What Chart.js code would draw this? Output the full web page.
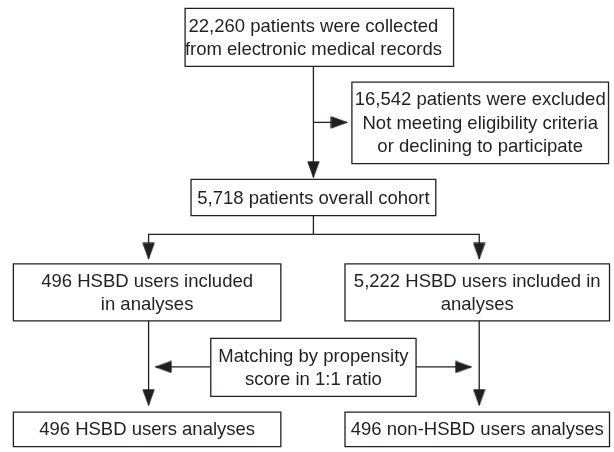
<!DOCTYPE html>
<html>
<head>
<meta charset="utf-8">
<title>Patient flow</title>
<script src="https://cdn.jsdelivr.net/npm/chart.js@4/dist/chart.umd.min.js"></script>
<style>
  html, body { margin: 0; padding: 0; background: #fff; }
  #flow { display: block; }
</style>
</head>
<body>
<canvas id="flow" width="614" height="452"></canvas>
<script>
// text of each step, top to bottom, left to right
const stepText = [
  ['22,260 patients were collected', 'from electronic medical records'],
  ['16,542 patients were excluded', 'Not meeting eligibility criteria', 'or declining to participate'],
  ['5,718 patients overall cohort'],
  ['496 HSBD users included', 'in analyses'],
  ['5,222 HSBD users included in', 'analyses'],
  ['Matching by propensity', 'score in 1:1 ratio'],
  ['496 HSBD users analyses'],
  ['496 non-HSBD users analyses']
];

// layout on a 614 x 452 grid: [left, top, right, bottom, text centre x]
const boxRects = [
  [183.5, 4.5, 455.5, 63.5, 313.5],
  [352.5, 79.5, 612.5, 162.5],
  [189.5, 178.5, 437.5, 215.5],
  [9.5, 264.5, 280.5, 322.5],
  [345.5, 264.5, 613.5, 322.5],
  [209.5, 340.5, 417.5, 399.5],
  [9.5, 415.5, 280.5, 450.5],
  [345.5, 415.5, 613.5, 450.5]
];

// connectors that end in an arrowhead
const arrowPaths = [
  [[313.5, 63.5], [313.5, 176.5]],
  [[313.5, 120.5], [347.5, 120.5]],
  [[313.5, 234.5], [146.5, 234.5], [146.5, 259.5]],
  [[313.5, 234.5], [481.5, 234.5], [481.5, 259.5]],
  [[146.5, 322.5], [146.5, 408.5]],
  [[481.5, 322.5], [481.5, 408.5]],
  [[209.5, 369.5], [153.5, 369.5]],
  [[417.5, 369.5], [473.5, 369.5]]
];
// connectors without a head
const plainPaths = [
  [[313.5, 215.5], [313.5, 234.5]]
];

const ink = '#231f20';

// arrowhead pointing right, tip in the middle of the canvas
function makeHead(len, wid) {
  const c = document.createElement('canvas');
  c.width = len * 2 + 1;
  c.height = wid + 1;
  const g = c.getContext('2d');
  const cy = c.height / 2;
  g.fillStyle = ink;
  g.strokeStyle = ink;
  g.lineWidth = 0.8;
  g.lineJoin = 'miter';
  g.beginPath();
  g.moveTo(len + 0.5, cy);
  g.lineTo(0.8, cy - wid / 2 + 0.3);
  g.lineTo(0.8, cy + wid / 2 - 0.3);
  g.closePath();
  g.fill();
  g.stroke();
  return c;
}
const head = makeHead(16, 12);

const toPoints = path => path.map(([x, y]) => ({ x, y }));

const boxSets = boxRects.map(([l, t, r, b]) => ({
  data: toPoints([[l, t], [r, t], [r, b], [l, b], [l, t]]),
  showLine: true,
  fill: false,
  borderColor: ink,
  borderWidth: 1.3,
  borderCapStyle: 'square',
  pointRadius: 0
}));

const linkSets = arrowPaths.map(path => {
  const last = path.length - 1;
  const [x0, y0] = path[last - 1];
  const [x1, y1] = path[last];
  const angle = Math.atan2(y1 - y0, x1 - x0) * 180 / Math.PI; // y axis is reversed, so this is screen angle
  return {
    data: toPoints(path),
    showLine: true,
    borderColor: ink,
    borderWidth: 1.3,
    pointRadius: path.map((_, i) => (i === last ? 1 : 0)),
    pointStyle: path.map((_, i) => (i === last ? head : 'circle')),
    pointRotation: path.map((_, i) => (i === last ? angle : 0)),
    pointBorderWidth: 0
  };
}).concat(plainPaths.map(path => ({
  data: toPoints(path),
  showLine: true,
  borderColor: ink,
  borderWidth: 1.3,
  pointRadius: 0
})));

// writes the step text inside each box
const boxText = {
  id: 'boxText',
  afterDatasetsDraw(chart) {
    const { ctx, scales: { x, y } } = chart;
    ctx.save();
    ctx.font = '18.5px "Liberation Sans", Arial, sans-serif';
    ctx.fillStyle = ink;
    ctx.textAlign = 'center';
    ctx.textBaseline = 'middle';
    stepText.forEach((lines, i) => {
      const [l, t, r, b, tx] = boxRects[i];
      const cx = x.getPixelForValue(tx ?? (l + r) / 2);
      const cy = y.getPixelForValue((t + b) / 2 + 1);
      lines.forEach((s, k) => {
        ctx.fillText(s, cx, cy + (k - (lines.length - 1) / 2) * 23.5);
      });
    });
    ctx.restore();
  }
};

new Chart(document.getElementById('flow'), {
  type: 'scatter',
  data: { datasets: linkSets.concat(boxSets) },
  options: {
    responsive: false,
    animation: false,
    devicePixelRatio: 1,
    events: [],
    layout: { padding: 0 },
    clip: false,
    scales: {
      x: { type: 'linear', min: 0, max: 614, display: false },
      y: { type: 'linear', min: 0, max: 452, reverse: true, display: false }
    },
    plugins: {
      legend: { display: false },
      tooltip: { enabled: false }
    }
  },
  plugins: [boxText]
});
</script>
</body>
</html>
